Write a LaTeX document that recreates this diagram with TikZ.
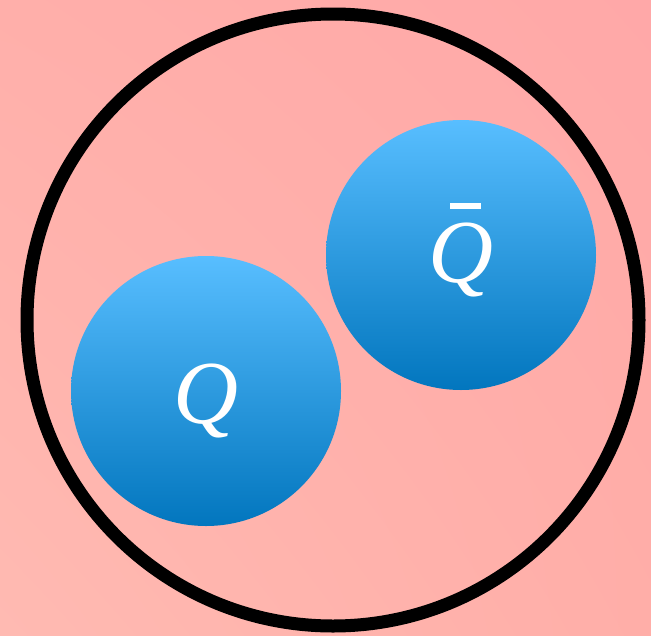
\documentclass[tikz,border=0pt]{standalone}
\usepackage[no-math]{fontspec}
\newfontfamily\quarkfont{Liberation Serif}
\usetikzlibrary{shadings}
\definecolor{bgul}{RGB}{255,175,170}
\definecolor{bgur}{RGB}{255,168,168}
\definecolor{bgll}{RGB}{255,186,178}
\definecolor{bglr}{RGB}{255,174,168}
\definecolor{qlight}{RGB}{88,190,255}
\definecolor{qdark}{RGB}{2,118,190}
\newcommand\quarkbar{\makebox[0pt][l]{\hspace{0.24em}\raisebox{0.82em}{\rule{0.34em}{0.067em}}}}
\begin{document}
\begin{tikzpicture}[x=1pt, y=-1pt,
    quark/.style={circle, minimum size=270pt, inner sep=0pt, top color=qlight, bottom color=qdark},
    qlabel/.style={text=white, font=\quarkfont\itshape\fontsize{90}{94}\selectfont}]
  \useasboundingbox (0,0) rectangle (651,635);
  \shade[upper left=bgul, upper right=bgur, lower left=bgll, lower right=bglr] (0,0) rectangle (651,635);
  \draw[line width=13pt] (333,320) circle[radius=306];
  \node[quark] (q) at (206,391) {};
  \node[quark] (qbar) at (461,255) {};
  \node[qlabel] (qtext) at ([yshift=-10pt]q.center) {Q};
  \node[qlabel] (qbartext) at ([yshift=5pt]qbar.center) {\quarkbar Q};
\end{tikzpicture}
\end{document}
